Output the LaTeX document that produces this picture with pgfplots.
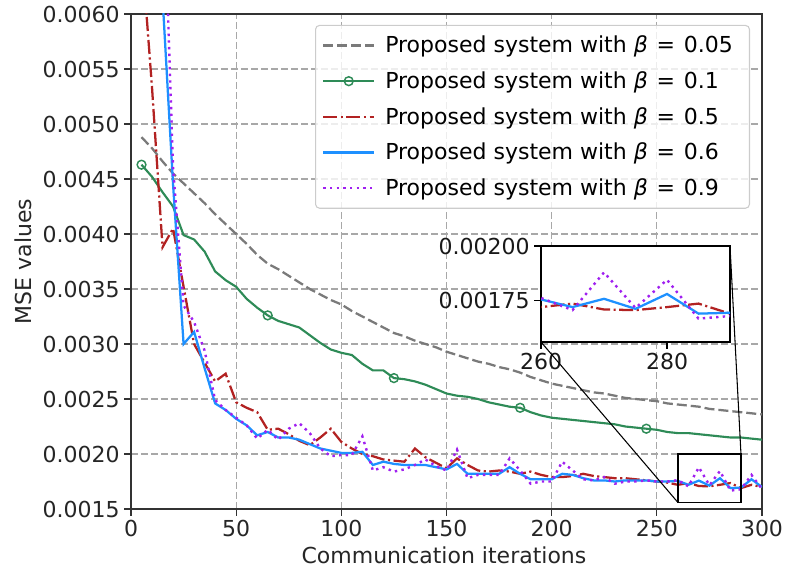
\documentclass[border=0pt]{standalone}
\usepackage{fontspec}
\setmainfont{DejaVu Sans}
\usepackage{pgfplots}
\usepackage{pgfplotstable}
\pgfplotsset{compat=1.18}

\definecolor{cgray}{HTML}{7A7A7A}
\definecolor{cgreen}{HTML}{2E8B57}
\definecolor{cred}{HTML}{B22222}
\definecolor{cblue}{HTML}{1E90FF}
\definecolor{cpurple}{HTML}{A020F0}
\definecolor{cgrid}{HTML}{A8A8A8}

\newcommand{\fsz}{\fontsize{16.5}{19.8}\selectfont}
\newcommand{\beq}[1]{Proposed system with \textit{β}\hspace{0.4em}=\hspace{0.4em}#1}

% MSE per communication iteration for each beta
\pgfplotstableread{
x   b005    b01     b05      b06      b09
5   0.00488 0.00463 0.00660  0.01500  0.01600
10  0.00478 0.00452 0.00533  0.01000  0.01100
15  0.00466 0.00438 0.00388  0.00615  0.00752
20  0.00455 0.00425 0.00405  0.00445  0.00460
25  0.00446 0.00399 0.00352  0.00300  0.00335
30  0.00437 0.00395 0.00300  0.00311  0.00320
35  0.00428 0.00384 0.00283  0.00278  0.00294
40  0.00418 0.00366 0.00266  0.00246  0.00249
45  0.00409 0.00358 0.00273  0.00240  0.00240
50  0.00400 0.00352 0.00247  0.00232  0.00233
55  0.00391 0.00341 0.00242  0.00226  0.00226
60  0.00381 0.00333 0.00238  0.00217  0.00214
65  0.00373 0.00326 0.00222  0.00220  0.00222
70  0.00368 0.00321 0.00223  0.00215  0.00213
75  0.00362 0.00318 0.00218  0.00215  0.00223
80  0.00356 0.00315 0.00212  0.00213  0.00228
85  0.00350 0.00308 0.00208  0.00209  0.00219
90  0.00345 0.00301 0.00215  0.00205  0.00205
95  0.00340 0.00295 0.00223  0.00203  0.00198
100 0.00336 0.00292 0.00211  0.00201  0.00199
105 0.00330 0.00290 0.00205  0.00201  0.00199
110 0.00325 0.00282 0.00200  0.00202  0.00216
115 0.00320 0.00276 0.00198  0.00190  0.00185
120 0.00315 0.00276 0.00195  0.00193  0.00188
125 0.00310 0.00269 0.00194  0.00191  0.00184
130 0.00307 0.00268 0.00193  0.00190  0.00186
135 0.00303 0.00266 0.00205  0.00190  0.00190
140 0.00300 0.00263 0.00197  0.00190  0.00195
145 0.00297 0.00259 0.00192  0.00188  0.00189
150 0.00293 0.00255 0.00187  0.00186  0.00185
155 0.00290 0.00253 0.00196  0.00191  0.00204
160 0.00287 0.00252 0.00190  0.00182  0.00178
165 0.00284 0.00250 0.00185  0.00182  0.00181
170 0.00282 0.00247 0.00184  0.00182  0.00181
175 0.00279 0.00245 0.00185  0.00182  0.00181
180 0.00277 0.00243 0.00184  0.00188  0.00196
185 0.00274 0.00242 0.00182  0.00182  0.00185
190 0.00270 0.00238 0.00184  0.00177  0.00173
195 0.00267 0.00235 0.00181  0.00177  0.00175
200 0.00264 0.00233 0.00179  0.00177  0.00175
205 0.00262 0.00232 0.00179  0.00182  0.00193
210 0.00260 0.00231 0.00180  0.00181  0.00185
215 0.00258 0.00230 0.00182  0.00178  0.00177
220 0.00256 0.00229 0.00180  0.00176  0.00176
225 0.00255 0.00228 0.00179  0.00176  0.00179
230 0.00253 0.00227 0.00178  0.00175  0.00173
235 0.00251 0.00225 0.00178  0.00176  0.00175
240 0.00250 0.00224 0.00177  0.00176  0.00175
245 0.00249 0.00223 0.00176  0.00176  0.00176
250 0.00248 0.00222 0.00175  0.00175  0.00175
255 0.00246 0.00220 0.00174  0.00175  0.00175
260 0.00245 0.00219 0.00172  0.001755 0.001762
265 0.00244 0.00219 0.001736 0.00172  0.001706
270 0.00243 0.00218 0.001709 0.001758 0.001879
275 0.00241 0.00217 0.001706 0.001712 0.001716
280 0.00240 0.00216 0.00172  0.00178  0.001845
285 0.00239 0.00215 0.001736 0.00169  0.001667
290 0.00238 0.00215 0.00169  0.001694 0.001679
295 0.00237 0.00214 0.00172  0.00177  0.00181
300 0.00236 0.00213 0.00170  0.00170  0.00168
}\msedata

\pgfplotsset{
  s005/.style={cgray, line width=1.7pt, dash pattern=on 7.5pt off 3pt},
  s01/.style={cgreen, line width=1.6pt, mark=o, mark size=3.3pt,
              mark options={solid, line width=1.1pt, fill=none}},
  s05/.style={cred, line width=1.7pt, dash pattern=on 10.5pt off 2.6pt on 1.6pt off 2.6pt},
  s06/.style={cblue, line width=1.7pt},
  s09/.style={cpurple, line width=1.8pt, dash pattern=on 1.8pt off 3.2pt},
}

\begin{document}
\begin{tikzpicture}
\useasboundingbox (-98.25pt,-51.75pt) rectangle (490.5pt,381.75pt);
\begin{axis}[
  name=main, at={(0pt,0pt)}, anchor=south west,
  scale only axis, width=473.25pt, height=371.25pt,
  xmin=0, xmax=300, ymin=0.0015, ymax=0.006,
  xtick={0,50,100,150,200,250,300},
  ytick={0.0015,0.002,0.0025,0.003,0.0035,0.004,0.0045,0.005,0.0055,0.006},
  scaled y ticks=false,
  /pgf/number format/assume math mode=true,
  yticklabel style={/pgf/number format/.cd, fixed, fixed zerofill, precision=4},
  xticklabel style={/pgf/number format/.cd, fixed, precision=0},
  tick label style={font=\fsz, black!85},
  label style={font=\fsz, black!85},
  xtick pos=bottom, ytick pos=left,
  tick align=outside, major tick length=5pt,
  tick style={black!80, line width=0.8pt},
  axis line style={black!80, line width=1pt},
  grid=major,
  major grid style={cgrid, line width=0.8pt, dash pattern=on 5pt off 2.5pt},
  xlabel={Communication iterations},
  ylabel={MSE values},
  x label style={at={(axis description cs:0.496,-0.093)}, anchor=center},
  y label style={at={(axis description cs:-0.170,0.5)}, anchor=center},
  legend image code/.code={\draw[mark repeat=2, mark phase=2, #1]
      plot coordinates {(0pt,0pt) (19pt,0pt) (38pt,0pt)};},
  legend style={at={(axis description cs:0.981,0.978)}, anchor=north east,
      font=\fsz, draw=black!20, line width=0.8pt, rounded corners=3pt,
      fill=white, fill opacity=0.8, text opacity=1, draw opacity=1,
      row sep=8.6pt, inner xsep=5pt, inner ysep=6pt,
      nodes={inner xsep=7.5pt}},
  legend cell align=left,
]
\addplot[s005] table[x=x, y=b005] {\msedata};
\addlegendentry{\beq{0.05}}
\addplot[s01, mark repeat=12, mark phase=1] table[x=x, y=b01] {\msedata};
\addlegendentry{\beq{0.1}}
\addplot[s05] table[x=x, y=b05] {\msedata};
\addlegendentry{\beq{0.5}}
\addplot[s06] table[x=x, y=b06] {\msedata};
\addlegendentry{\beq{0.6}}
\addplot[s09] table[x=x, y=b09] {\msedata};
\addlegendentry{\beq{0.9}}
% zoom window
\draw[black, line width=1pt] (axis cs:260,0.00156) rectangle (axis cs:290,0.0020);
\coordinate (zSW) at (axis cs:260,0.00156);
\coordinate (zNE) at (axis cs:290,0.0020);
\end{axis}

\begin{axis}[
  name=inset, at={(307.5pt,125.25pt)}, anchor=south west,
  scale only axis, width=141.75pt, height=72pt,
  xmin=260, xmax=290, ymin=0.00156, ymax=0.0020,
  xtick={260,280}, ytick={0.00175,0.002},
  scaled y ticks=false,
  /pgf/number format/assume math mode=true,
  yticklabel style={/pgf/number format/.cd, fixed, fixed zerofill, precision=5},
  xticklabel style={/pgf/number format/.cd, fixed, precision=0},
  tick label style={font=\fsz, black!90},
  xtick pos=bottom, ytick pos=left,
  tick align=outside, major tick length=5pt,
  tick style={black, line width=0.8pt},
  axis line style={black, line width=1pt},
  axis background/.style={fill=white},
]
\addplot[s05] table[x=x, y=b05] {\msedata};
\addplot[s06] table[x=x, y=b06] {\msedata};
\addplot[s09] table[x=x, y=b09] {\msedata};
\end{axis}
\draw[black, line width=0.8pt] (zSW) -- (inset.south west);
\draw[black, line width=0.8pt] (zNE) -- (inset.north east);
\end{tikzpicture}
\end{document}
